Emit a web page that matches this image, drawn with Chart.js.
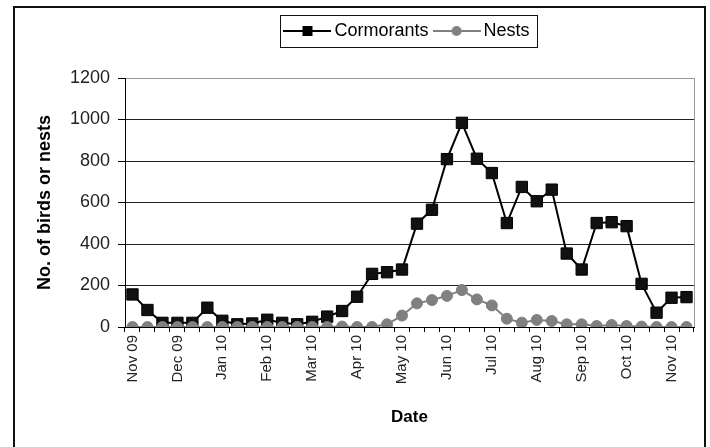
<!DOCTYPE html>
<html>
<head>
<meta charset="utf-8">
<script src="https://cdn.jsdelivr.net/npm/chart.js@4/dist/chart.umd.min.js"></script>
<style>
  html, body { margin: 0; padding: 0; background: #fff; }
  canvas { display: block; }
</style>
</head>
<body>
<canvas id="c" width="710" height="447"></canvas>
<script>
// Month tick labels, one every third survey
const monthTicks = ['Nov 09', 'Dec 09', 'Jan 10', 'Feb 10', 'Mar 10', 'Apr 10', 'May 10',
                    'Jun 10', 'Jul 10', 'Aug 10', 'Sep 10', 'Oct 10', 'Nov 10'];

// Counts per survey
const cormorants = [157, 82, 20, 20, 20, 93, 30, 13, 17, 35, 20, 13, 25, 50,
                    77, 146, 256, 264, 277, 498, 565, 809, 984, 811, 742, 501,
                    675, 606, 662, 354, 277, 501, 505, 486, 208, 69, 141, 144];
const nests = [0, 0, 0, 0, 0, 0, 0, 0, 0, 0, 0, 0, 0, 0,
               2, 0, 0, 13, 55, 114, 130, 150, 178, 133, 104, 40,
               21, 34, 29, 13, 13, 5, 10, 5, 2, 0, 0, 0];

const yTicks = { min: 0, max: 1200, step: 200 };

// Category labels: month name on every third survey
const categories = cormorants.map((_, i) => (i % 3 === 0 ? monthTicks[i / 3] : ''));

const FONT = '"Liberation Sans", Arial, sans-serif';

// Legend symbols: a short line with the series marker in the middle
function makeIcon(color, shape) {
  const c = document.createElement('canvas');
  c.width = 48; c.height = 14;
  const g = c.getContext('2d');
  g.strokeStyle = color; g.lineWidth = 2;
  g.beginPath(); g.moveTo(0, 7); g.lineTo(48, 7); g.stroke();
  g.fillStyle = color;
  if (shape === 'rect') {
    g.fillRect(19, 2, 10, 10);
  } else {
    g.beginPath(); g.arc(24, 7, 5, 0, Math.PI * 2); g.fill();
  }
  return c;
}
const icons = [makeIcon('#000', 'rect'), makeIcon('#808080', 'circle')];

const framePlugin = {
  id: 'frame',
  afterInit(chart) {
    // leave a gap between the legend and the plot area
    const lg = chart.legend;
    if (!lg) return;
    const fit = lg.fit.bind(lg);
    lg.fit = function () { fit(); this.height += 28; };
  },
  afterLayout(chart) {
    // centre the legend over the plot area
    const lg = chart.legend;
    const a = chart.chartArea;
    if (!lg) return;
    const d = (a.left + a.right) / 2 - (lg.left + lg.right) / 2;
    lg.left += d;
    lg.right += d;
  },
  beforeDraw(chart) {
    const ctx = chart.ctx;
    ctx.save();
    ctx.fillStyle = '#fff';
    ctx.fillRect(0, 0, chart.width, chart.height);
    ctx.strokeStyle = '#111';
    ctx.lineWidth = 2;
    ctx.strokeRect(14, 7, 691, 480);
    ctx.restore();
  },
  beforeDatasetsDraw(chart) {
    const { ctx, chartArea: a } = chart;
    ctx.save();
    ctx.strokeStyle = '#999';
    ctx.lineWidth = 1;
    ctx.beginPath();
    ctx.moveTo(Math.round(a.right) + 0.5, a.top);
    ctx.lineTo(Math.round(a.right) + 0.5, a.bottom);
    ctx.stroke();
    ctx.restore();
  },
  afterDraw(chart) {
    const boxes = chart.legend && chart.legend.legendHitBoxes;
    if (!boxes || !boxes.length) return;
    const ctx = chart.ctx;
    const x0 = Math.min(...boxes.map(b => b.left)) - 9;
    const x1 = Math.max(...boxes.map(b => b.left + b.width)) + 8;
    const cy = boxes[0].top + boxes[0].height / 2;
    ctx.save();
    ctx.strokeStyle = '#111';
    ctx.lineWidth = 1;
    ctx.strokeRect(Math.round(x0) + 0.5, Math.round(cy - 16) + 0.5, Math.round(x1 - x0), 32);
    ctx.restore();
  }
};

new Chart(document.getElementById('c'), {
  type: 'line',
  data: {
    labels: categories,
    datasets: [
      {
        label: 'Cormorants',
        data: cormorants,
        order: 1,
        borderColor: '#000',
        backgroundColor: '#111',
        borderWidth: 2,
        pointStyle: 'rect',
        pointRadius: 8,
        pointBorderWidth: 1,
        pointBorderColor: '#000',
        pointBackgroundColor: '#111',
        tension: 0
      },
      {
        label: 'Nests',
        data: nests,
        order: 0,
        borderColor: '#808080',
        backgroundColor: '#808080',
        borderWidth: 2,
        pointStyle: 'circle',
        pointRadius: 5.5,
        pointBorderWidth: 1,
        pointBorderColor: '#808080',
        pointBackgroundColor: '#808080',
        tension: 0
      }
    ]
  },
  options: {
    responsive: false,
    animation: false,
    layout: { padding: { top: 12, left: 30, right: 16, bottom: 15 } },
    plugins: {
      tooltip: { enabled: false },
      legend: {
        position: 'top',
        labels: {
          usePointStyle: true,
          pointStyleWidth: 36,
          padding: 10,
          color: '#000',
          font: { family: FONT, size: 18 },
          sort: (a, b) => a.datasetIndex - b.datasetIndex,
          generateLabels(chart) {
            const items = Chart.defaults.plugins.legend.labels.generateLabels(chart);
            items.forEach(it => { it.pointStyle = icons[it.datasetIndex]; });
            return items;
          }
        }
      }
    },
    scales: {
      x: {
        type: 'category',
        offset: true,
        afterFit(s) { s.height = 105; },
        grid: { offset: true, drawOnChartArea: false, drawTicks: true, tickLength: 5, color: '#000' },
        border: { color: '#000', width: 1 },
        ticks: {
          autoSkip: false,
          minRotation: 90,
          maxRotation: 90,
          padding: 3,
          color: '#222',
          font: { family: FONT, size: 15 },
          callback: (v, i) => categories[i]
        },
        title: {
          display: true,
          text: 'Date',
          color: '#000',
          font: { family: FONT, size: 17, weight: 'bold' }
        }
      },
      y: {
        min: yTicks.min,
        max: yTicks.max,
        afterFit(s) { s.width = 95; },
        grid: {
          color: ctx => (ctx.tick && ctx.tick.value === yTicks.max ? '#999' : '#222'),
          tickColor: '#000',
          tickLength: 7,
          lineWidth: 1
        },
        border: { color: '#000', width: 1 },
        ticks: {
          stepSize: yTicks.step,
          padding: 8,
          color: '#222',
          font: { family: FONT, size: 18 },
          callback: v => String(v)
        },
        title: {
          display: true,
          text: 'No. of birds or nests',
          color: '#000',
          font: { family: FONT, size: 18, weight: 'bold' }
        }
      }
    }
  },
  plugins: [framePlugin]
});
</script>
</body>
</html>
